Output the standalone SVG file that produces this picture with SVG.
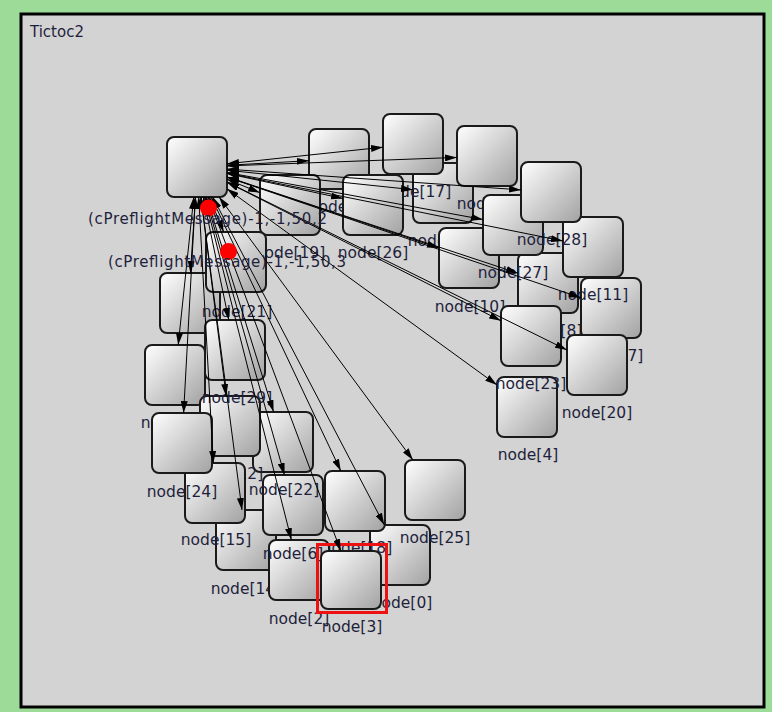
<svg xmlns="http://www.w3.org/2000/svg" width="772" height="712" viewBox="0 0 772 712">
<defs>
<linearGradient id="gb" x1="0" y1="0" x2="1" y2="1">
<stop offset="0" stop-color="#ffffff"/>
<stop offset="1" stop-color="#a2a2a2"/>
</linearGradient>
<marker id="ah" viewBox="0 0 12 7" refX="12" refY="3.5" markerWidth="12" markerHeight="7" markerUnits="userSpaceOnUse" orient="auto-start-reverse">
<path d="M0,0 L12,3.5 L0,7 z" fill="#000"/>
</marker>
</defs>
<style>
.box{fill:url(#gb);stroke:#1a1a1a;stroke-width:2}
.lbl{font-family:"DejaVu Sans",sans-serif;font-size:15.5px;fill:#1f1f3d;text-anchor:middle}
.msg{font-family:"DejaVu Sans",sans-serif;font-size:15px;fill:#1f1f3d}
.cn line{stroke:#000;stroke-width:1;marker-start:url(#ah);marker-end:url(#ah)}
</style>
<rect x="0" y="0" width="772" height="712" fill="#9ddc98"/>
<rect x="21" y="14" width="743" height="693" fill="#d3d3d3" stroke="#000" stroke-width="3"/>
<text x="30" y="37" class="msg">Tictoc2</text>

<g id="nodeA"><rect class="box" x="167" y="137" width="60" height="60" rx="7"/></g>
<g id="node5"><rect class="box" x="309" y="129" width="60" height="60" rx="7"/><text class="lbl" x="339" y="212">node[5]</text></g>
<g id="node16"><rect class="box" x="413" y="163" width="60" height="60" rx="7"/><text class="lbl" x="443" y="246">node[16]</text></g>
<g id="node17"><rect class="box" x="383" y="114" width="60" height="60" rx="7"/><text class="lbl" x="416" y="197">node[17]</text></g>
<g id="node19"><rect class="box" x="260" y="175" width="60" height="60" rx="7"/><text class="lbl" x="290" y="258">node[19]</text></g>
<g id="node26"><rect class="box" x="343" y="175" width="60" height="60" rx="7"/><text class="lbl" x="373" y="258">node[26]</text></g>
<g id="node9"><rect class="box" x="457" y="126" width="60" height="60" rx="7"/><text class="lbl" x="487" y="209">node[9]</text></g>
<g id="node8"><rect class="box" x="518" y="253" width="60" height="60" rx="7"/><text class="lbl" x="552" y="336">node[8]</text></g>
<g id="node10"><rect class="box" x="439" y="228" width="60" height="60" rx="7"/><text class="lbl" x="470" y="312">node[10]</text></g>
<g id="node27"><rect class="box" x="483" y="195" width="60" height="60" rx="7"/><text class="lbl" x="513" y="278">node[27]</text></g>
<g id="node7"><rect class="box" x="581" y="278" width="60" height="60" rx="7"/><text class="lbl" x="613" y="361">node[7]</text></g>
<g id="node11"><rect class="box" x="563" y="217" width="60" height="60" rx="7"/><text class="lbl" x="593" y="300">node[11]</text></g>
<g id="node28"><rect class="box" x="521" y="162" width="60" height="60" rx="7"/><text class="lbl" x="552" y="245">node[28]</text></g>
<g id="node4"><rect class="box" x="497" y="377" width="60" height="60" rx="7"/><text class="lbl" x="528" y="460">node[4]</text></g>
<g id="node23"><rect class="box" x="501" y="306" width="60" height="60" rx="7"/><text class="lbl" x="531" y="389">node[23]</text></g>
<g id="node20"><rect class="box" x="567" y="335" width="60" height="60" rx="7"/><text class="lbl" x="597" y="418">node[20]</text></g>
<g id="node0"><rect class="box" x="370" y="525" width="60" height="60" rx="7"/><text class="lbl" x="402" y="608">node[0]</text></g>
<g id="node18"><rect class="box" x="325" y="471" width="60" height="60" rx="7"/><text class="lbl" x="357" y="553">node[18]</text></g>
<g id="node25"><rect class="box" x="405" y="460" width="60" height="60" rx="7"/><text class="lbl" x="435" y="543">node[25]</text></g>
<g id="node14"><rect class="box" x="216" y="510" width="60" height="60" rx="7"/><text class="lbl" x="246" y="594">node[14]</text></g>
<g id="node2"><rect class="box" x="269" y="540" width="60" height="60" rx="7"/><text class="lbl" x="299" y="624">node[2]</text></g>
<g id="node6"><rect class="box" x="263" y="475" width="60" height="60" rx="7"/><text class="lbl" x="293" y="559">node[6]</text></g>
<g id="node22"><rect class="box" x="253" y="412" width="60" height="60" rx="7"/><text class="lbl" x="284" y="495">node[22]</text></g>
<g id="node1"><rect class="box" x="160" y="273" width="60" height="60" rx="7"/></g>
<g id="node13"><rect class="box" x="145" y="345" width="60" height="60" rx="7"/><text class="lbl" x="176" y="428">node[13]</text></g>
<g id="node12"><rect class="box" x="200" y="396" width="60" height="60" rx="7"/><text class="lbl" x="228" y="479">node[12]</text></g>
<g id="node15"><rect class="box" x="185" y="463" width="60" height="60" rx="7"/><text class="lbl" x="216" y="545">node[15]</text></g>
<g id="node24"><rect class="box" x="152" y="413" width="60" height="60" rx="7"/><text class="lbl" x="182" y="497">node[24]</text></g>
<g id="node29"><rect class="box" x="205" y="320" width="60" height="60" rx="7"/><text class="lbl" x="237" y="403">node[29]</text></g>
<g id="node21"><rect class="box" x="206" y="232" width="60" height="60" rx="7"/><text class="lbl" x="237" y="317">node[21]</text></g>
<g id="node3"><rect class="box" x="321" y="551" width="60" height="58" rx="7"/><rect x="317.5" y="544.5" width="69" height="68" fill="none" stroke="#ee1111" stroke-width="3"/><text class="lbl" x="352" y="632">node[3]</text></g>

<g id="connectors" class="cn">
<line x1="227" y1="165.3" x2="309" y2="160.7"/>
<line x1="227" y1="163.8" x2="383" y2="147.2"/>
<line x1="227" y1="165.9" x2="457" y2="157.4"/>
<line x1="227" y1="179.3" x2="260" y2="192.7"/>
<line x1="227" y1="173.5" x2="343" y2="198.5"/>
<line x1="227" y1="170.2" x2="413" y2="189.7"/>
<line x1="227" y1="169.1" x2="521" y2="189.9"/>
<line x1="227" y1="172.5" x2="483" y2="219.5"/>
<line x1="227" y1="173.1" x2="563" y2="241"/>
<line x1="227" y1="177.2" x2="581" y2="297.8"/>
<line x1="227" y1="176.9" x2="518" y2="273.2"/>
<line x1="227" y1="177" x2="439" y2="248"/>
<line x1="227" y1="182.2" x2="501" y2="320.8"/>
<line x1="227" y1="181.9" x2="567" y2="350"/>
<line x1="227" y1="188.8" x2="497" y2="385"/>
<line x1="219.1" y1="197" x2="412.9" y2="460"/>
<line x1="212.7" y1="197" x2="384.3" y2="525"/>
<line x1="211.2" y1="197" x2="340.8" y2="471"/>
<line x1="208.2" y1="197" x2="340.8" y2="551"/>
<line x1="204.6" y1="197" x2="291.4" y2="540"/>
<line x1="205.5" y1="197" x2="284.5" y2="475"/>
<line x1="206.4" y1="197" x2="273.6" y2="412"/>
<line x1="200.9" y1="197" x2="242" y2="510"/>
<line x1="198.7" y1="197" x2="213.3" y2="463"/>
<line x1="200.8" y1="197" x2="226.2" y2="396"/>
<line x1="195.4" y1="197" x2="183.6" y2="413"/>
<line x1="193.8" y1="197" x2="178.2" y2="345"/>
<line x1="195.5" y1="197" x2="190.4" y2="273"/>
<line x1="209.3" y1="197" x2="223.7" y2="232"/>
<line x1="203.2" y1="197" x2="228.8" y2="320"/>
</g>

<g id="messages">
<circle cx="208.5" cy="208" r="8.5" fill="#ff0000"/>
<circle cx="228.5" cy="251.5" r="8.5" fill="#ff0000"/>
<text class="msg" x="88" y="224" textLength="239" lengthAdjust="spacing">(cPreflightMessage)-1,-1,50,2</text>
<text class="msg" x="108" y="267" textLength="238" lengthAdjust="spacing">(cPreflightMessage)-1,-1,50,3</text>
</g>
</svg>
